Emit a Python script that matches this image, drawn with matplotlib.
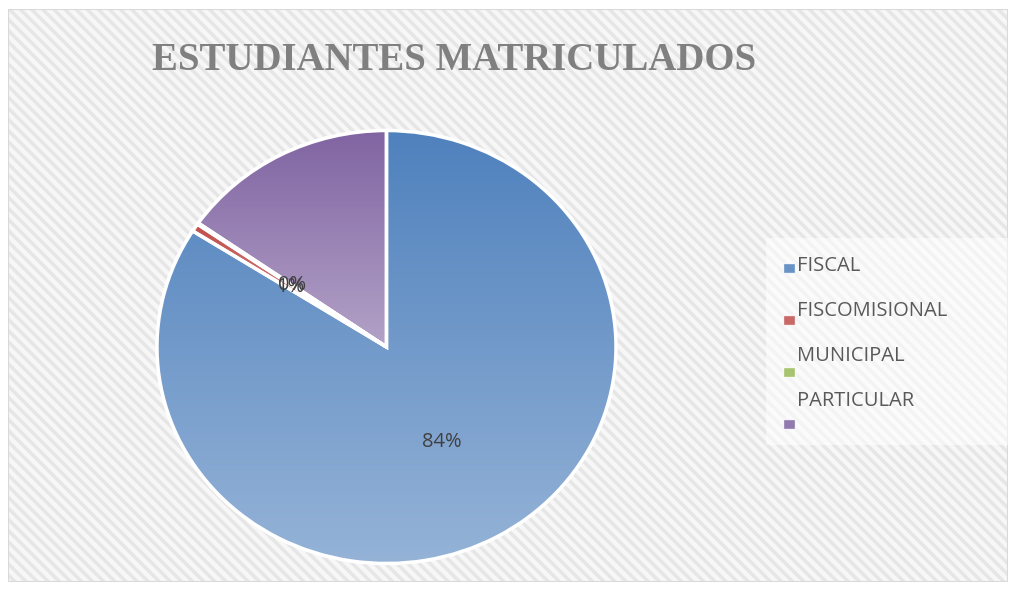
import numpy as np
import matplotlib
matplotlib.use('Agg')
from matplotlib import pyplot as plt
from matplotlib.patches import Rectangle, Wedge
from matplotlib.colors import LinearSegmentedColormap

categories = ['FISCAL', 'FISCOMISIONAL', 'MUNICIPAL', 'PARTICULAR']
values = [84.0, 0.6, 0.1, 15.3]
top_colors = ['#4F81BD', '#C0504D', '#9BBB59', '#8064A2']
bottom_colors = ['#95B3D7', '#D99694', '#C3D69B', '#B3A2C7']

plt.rcParams['hatch.linewidth'] = 2.5
fig = plt.figure(figsize=(10.14, 5.91), dpi=100)

# background with diagonal texture
bg = fig.add_axes([0.008, 0.015, 0.986, 0.97])
bg.set_xlim(0, 1)
bg.set_ylim(0, 1)
bg.axis('off')
bg.add_patch(Rectangle((0, 0), 1, 1, facecolor='#f7f7f7', edgecolor='#e6e6e6',
                       hatch='\\\\\\', linewidth=0))
bg.add_patch(Rectangle((0, 0), 1, 1, facecolor='none', edgecolor='#d9d9d9', linewidth=1.5))
# lighter legend area
bg.add_patch(Rectangle((0.758, 0.24), 0.242, 0.36, facecolor='white', alpha=0.55,
                       edgecolor='none'))

ax = fig.add_axes([0.1548, 0.0465, 0.4527, 0.7327])
wedges, texts, autotexts = ax.pie(values, startangle=90, counterclock=False,
                                  colors=top_colors, autopct='%.0f%%', pctdistance=0.5,
                                  wedgeprops=dict(edgecolor='white', linewidth=2.5),
                                  textprops=dict(color='#404040', fontsize=14.5,
                                                 family='Open Sans'))
ax.set_aspect('auto')
autotexts[3].set_visible(False)

for w, c1, c2 in zip(wedges, top_colors, bottom_colors):
    v = w.get_path().vertices
    x0, x1 = v[:, 0].min(), v[:, 0].max()
    y0, y1 = v[:, 1].min(), v[:, 1].max()
    cmap = LinearSegmentedColormap.from_list('g', [c2, c1])
    grad = np.linspace(0, 1, 256).reshape(-1, 1)
    im = ax.imshow(grad, cmap=cmap, extent=[x0, x1, y0, y1], origin='lower',
                   aspect='auto', zorder=1)
    im.set_clip_path(w)
    ax.add_patch(Wedge(w.center, w.r, w.theta1, w.theta2, facecolor='none',
                       edgecolor='white', linewidth=2.5, zorder=2))
for t in autotexts:
    t.set_zorder(5)
ax.set_xlim(-1, 1)
ax.set_ylim(-1, 1)

fig.text(0.4478, 0.897, 'ESTUDIANTES MATRICULADOS', ha='center', va='center',
         fontsize=28, fontweight='bold', color='#808080', family='Liberation Serif')

# legend
for i, (lab, c) in enumerate(zip(categories, top_colors)):
    ty = 266 + 45 * i
    my = 268 + 52 * i
    fig.text(797 / 1014, 1 - ty / 591, lab, ha='left', va='center', fontsize=14.5,
             color='#595959', family='Open Sans')
    fig.patches.append(Rectangle((783 / 1014, 1 - (my + 5) / 591), 12 / 1014, 10 / 591,
                                 transform=fig.transFigure, facecolor=c,
                                 edgecolor='white', linewidth=1, alpha=0.85))

fig.savefig('out.png', dpi=100)
